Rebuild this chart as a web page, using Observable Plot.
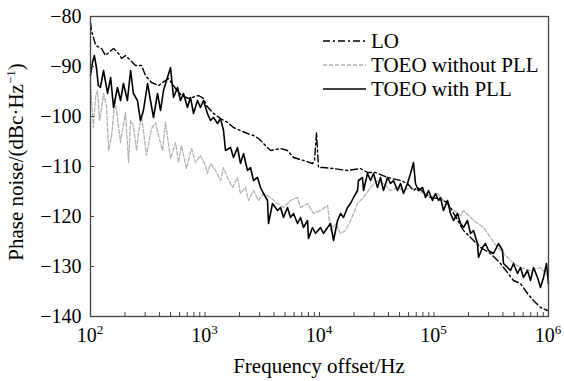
<!DOCTYPE html>
<html><head><meta charset="utf-8">
<script src="https://cdn.jsdelivr.net/npm/d3@7"></script>
<script src="https://cdn.jsdelivr.net/npm/@observablehq/plot@0.6"></script>
<style>
html,body{margin:0;padding:0;background:#fff}
svg{display:block}
svg, svg text, svg tspan{font-family:"Liberation Serif","Times New Roman",Times,serif !important;}
</style>
</head><body><div id="chart"></div>
<script>
// ---- data ----
const loF = [100,102,111,125,135,144,159,176,187,202,215,247,279,302,341,393,480,553,623,718,878,970,1030,1160,1366,1573,1774,2042,2351,2652,2933,3243,3733,4565,5254,5929,7251,8688,9050,9420,9606,9800,10840,13260,17560,22810,26260,30840,39260,50990,58680,66220,71770,93200,107300,131200,181000,254800,311500,380900,494800,569400,655400,739600,851500,980000];
const loPN = [-81.2,-82.8,-85.8,-86.4,-87.8,-87.2,-86.4,-87.4,-88.4,-87.8,-88.4,-89.8,-89.8,-91.8,-93.2,-93.8,-92.4,-94.4,-95.8,-96.4,-95.8,-96.4,-97.8,-99.2,-100.4,-101.2,-102.2,-102.8,-103.4,-103.8,-104.4,-105.4,-106.8,-106.4,-106.8,-108.2,-108.8,-109.4,-108.8,-103.2,-106.8,-110.2,-110.2,-110.4,-110.8,-110.4,-111.2,-111.2,-112.2,-112.8,-113.4,-114.8,-114.2,-116.2,-116.4,-117.2,-122.8,-126.2,-127.4,-129.4,-132.8,-133.4,-135.4,-136.8,-138.2,-138.8];

const noPllF = [100,106,111,115,120,125,130,138,144,153,163,169,183,202,215,224,237,252,263,279,308,341,370,393,425,452,500,553,587,623,689,762,826,913,1010,1050,1117,1235,1366,1451,1573,1739,1922,2042,2258,2399,2652,2933,3243,3733,4298,4849,5582,6426,6826,7858,8866,10200,11750,12480,13800,15260,16870,18660,19820,21480,24230,27890,32110,36230,41700,48000,54160,62340,71770,80970,93200,107300,121000,139400,170400,181000,221300,270600,311500,358600,404600,465800,569400,696200,851500,980000,1000000];
const noPllPN = [-93.4,-102.2,-95.8,-94.8,-100.8,-98.4,-95.4,-97.8,-106.8,-103.8,-96.8,-99.0,-105.2,-99.2,-109.2,-100.8,-101.8,-106.8,-103.2,-99.8,-107.8,-102.4,-101.2,-103.8,-106.8,-101.2,-108.4,-105.2,-109.2,-105.8,-110.4,-106.4,-109.2,-107.8,-109.8,-111.4,-109.4,-110.8,-112.8,-110.2,-112.2,-114.2,-112.2,-115.4,-114.2,-116.8,-114.8,-116.8,-115.4,-116.2,-117.4,-118.2,-116.8,-116.2,-118.2,-117.4,-119.4,-118.8,-117.8,-122.8,-121.4,-123.4,-122.8,-120.8,-119.4,-117.4,-116.2,-114.2,-112.8,-113.4,-114.8,-114.2,-114.8,-114.2,-114.8,-115.4,-116.2,-115.4,-116.8,-118.2,-119.8,-118.8,-120.8,-122.2,-124.2,-126.2,-127.4,-128.8,-130.2,-130.8,-130.2,-131.8,-134.2];

const pllF = [100,104,108,113,117,122,130,141,150,159,172,183,194,210,224,237,257,273,290,315,334,355,385,409,434,470,500,531,575,611,649,703,747,794,860,913,970,1050,1117,1186,1286,1366,1451,1510,1670,1774,1922,2042,2169,2351,2497,2652,2874,3053,3243,3515,3587,3886,4298,4565,4849,5254,5582,5929,6426,6826,7251,7858,8017,8688,9228,10200,10840,11750,12480,13260,14370,15260,16210,17560,18660,19820,21480,21910,23740,24230,26260,27890,29620,32110,34110,36230,39260,41700,44290,48000,50990,54160,58680,62340,66220,68910,73220,79350,84300,89540,97000,103000,109500,114000,121000,131200,139400,148000,160400,170400,181000,196100,208300,221300,239900,244700,265200,281700,299200,330900,365900,396600,404600,438500,465800,494800,536200,569400,604800,655400,696200,739600,801700,851500,904500,960000,1000000];
const pllPN = [-91.8,-89.2,-87.8,-90.4,-93.8,-94.2,-90.8,-95.4,-92.2,-98.2,-94.2,-96.8,-93.4,-96.8,-90.8,-95.4,-96.8,-100.8,-98.8,-93.4,-96.8,-100.2,-95.4,-98.8,-94.8,-92.2,-90.2,-96.2,-94.2,-96.8,-95.4,-98.2,-96.2,-99.4,-96.8,-98.2,-96.8,-99.4,-100.8,-100.2,-101.4,-100.4,-102.8,-106.8,-106.2,-108.2,-106.2,-109.4,-107.4,-110.8,-110.2,-112.8,-112.2,-114.2,-115.4,-116.8,-121.4,-117.4,-118.8,-118.2,-120.2,-118.2,-120.2,-119.4,-121.4,-120.2,-122.2,-120.8,-124.4,-122.2,-123.4,-122.2,-123.4,-122.2,-121.4,-124.8,-120.8,-119.4,-120.2,-118.2,-117.4,-116.2,-114.8,-112.8,-112.2,-114.8,-111.4,-112.8,-111.4,-114.2,-112.2,-114.8,-112.2,-113.4,-112.8,-114.8,-113.4,-115.4,-113.4,-111.4,-109.2,-113.4,-114.8,-114.2,-116.2,-114.8,-116.8,-115.4,-116.8,-116.2,-118.8,-116.8,-119.4,-120.8,-119.4,-121.4,-122.2,-120.8,-123.4,-122.8,-125.4,-128.2,-126.2,-125.4,-126.8,-127.4,-125.4,-126.8,-129.4,-130.2,-130.8,-129.4,-131.4,-130.2,-132.2,-130.8,-132.8,-130.2,-132.2,-134.2,-132.2,-129.4,-133.4];

const seriesNames = ["LO", "TOEO without PLL", "TOEO with PLL"];
const yTicks = [-80, -90, -100, -110, -120, -130, -140];
const xMajor = [1e2, 1e3, 1e4, 1e5, 1e6];
const xExp = ["2", "3", "4", "5", "6"];
const xMinorMult = [2, 3, 4, 5, 6, 7, 8, 9];
const xTitle = "Frequency offset/Hz";
const yTitleMain = "Phase noise/(dBc\u00B7Hz";
const yTitleSup = "\u22121";

// ---- build tables ----
const zip = (F, V) => F.map((f, i) => ({f, pn: V[i]}));
const lo = zip(loF, loPN);
const noPll = zip(noPllF, noPllPN);
const pll = zip(pllF, pllPN);
const xMinor = [];
for (const m of xMajor.slice(0, -1)) for (const k of xMinorMult) xMinor.push(m * k);

const FONT = "Liberation Serif, Times New Roman, Times, serif";
const W = 564, H = 381, ML = 90, MR = 16, MT = 16, MB = 65;

const chart = Plot.plot({
  width: W, height: H,
  marginLeft: ML, marginRight: MR, marginTop: MT, marginBottom: MB,
  x: {type: "log", domain: [100, 1e6], label: null},
  y: {domain: [-140, -80], label: null},
  style: {fontFamily: FONT, fontSize: "20px", color: "#000", background: "#fff", overflow: "visible"},
  marks: [
    Plot.line(noPll, {x: "f", y: "pn", stroke: "#b3b3b3", strokeWidth: 1.3, strokeDasharray: "4,2"}),
    Plot.line(pll, {x: "f", y: "pn", stroke: "#000", strokeWidth: 1.6}),
    Plot.line(lo, {x: "f", y: "pn", stroke: "#000", strokeWidth: 1.4, strokeDasharray: "7,3,2,3"}),
    Plot.frame({stroke: "#444", strokeWidth: 1.3}),
    Plot.axisY(yTicks, {tickSize: -4, tickPadding: 13, fontSize: 20, label: null, stroke: "#444"}),
    Plot.axisX(xMinor, {tickSize: -4, tickFormat: () => "", label: null, stroke: "#444"}),
    Plot.axisX(xMajor, {tickSize: -4, tickFormat: () => "", label: null, stroke: "#444"})
  ]
});
document.getElementById("chart").appendChild(chart);

// ---- text overlays ----
const svg = d3.select(chart);
const sx = chart.scale("x");
const plotBottom = H - MB, plotRight = W - MR;

xMajor.forEach((v, i) => {
  const t = svg.append("text").attr("x", sx.apply(v)).attr("y", plotBottom + 26)
    .attr("text-anchor", "middle").attr("font-size", 20).attr("fill", "#000");
  t.append("tspan").text("10");
  t.append("tspan").attr("font-size", 13).attr("dy", -8).text(xExp[i]);
});

svg.append("text").attr("x", (ML + plotRight) / 2).attr("y", 373)
  .attr("text-anchor", "middle").attr("font-size", 21).attr("fill", "#000")
  .text(xTitle);

const yt = svg.append("text").attr("transform", `translate(23,${(MT + plotBottom) / 2 - 4}) rotate(-90)`)
  .attr("text-anchor", "middle").attr("font-size", 21).attr("fill", "#000");
yt.append("tspan").text(yTitleMain);
yt.append("tspan").attr("font-size", 13).attr("dy", -8).text(yTitleSup);
yt.append("tspan").attr("dy", 8).text(")");

// legend
const legStyles = [
  {stroke: "#000", w: 1.4, dash: "7,3,2,3"},
  {stroke: "#b3b3b3", w: 1.3, dash: "4,2"},
  {stroke: "#000", w: 1.6, dash: null}
];
seriesNames.forEach((name, i) => {
  const yc = 41 + i * 24;
  const s = legStyles[i];
  const ln = svg.append("line").attr("x1", 323).attr("x2", 366).attr("y1", yc).attr("y2", yc)
    .attr("stroke", s.stroke).attr("stroke-width", s.w);
  if (s.dash) ln.attr("stroke-dasharray", s.dash);
  svg.append("text").attr("x", 371).attr("y", yc + 7).attr("text-anchor", "start")
    .attr("font-size", 21).attr("fill", "#000").text(name);
});
</script>
</body></html>
